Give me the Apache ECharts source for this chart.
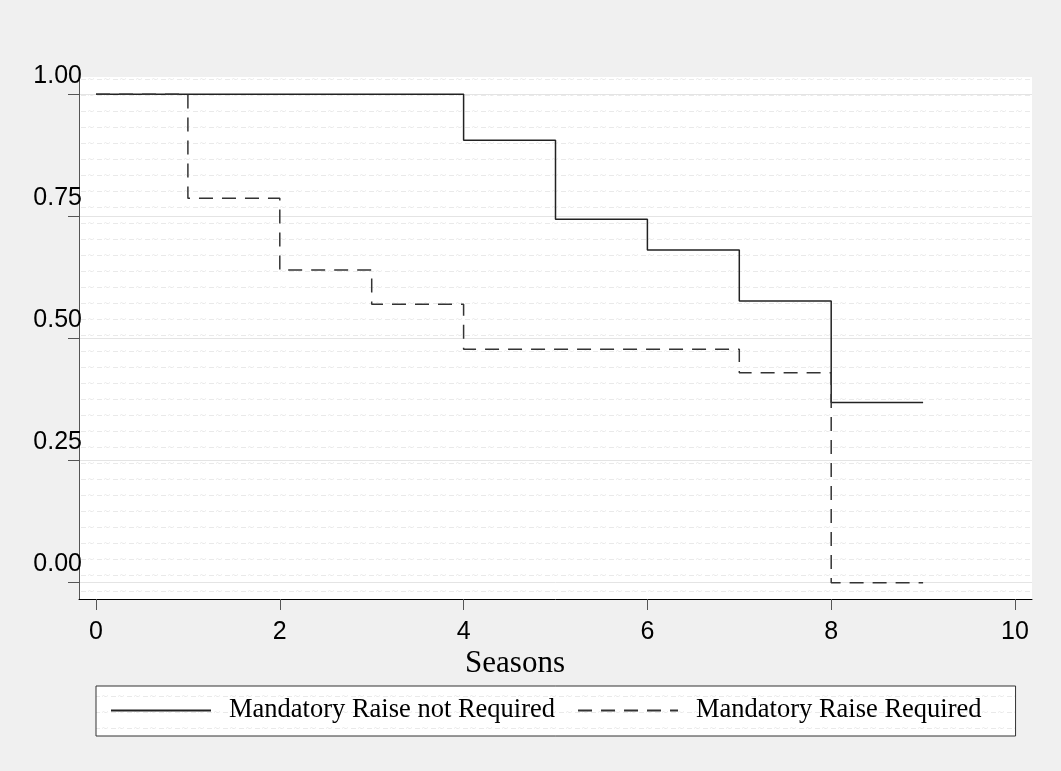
<!DOCTYPE html>
<html><head><meta charset="utf-8">
<script src="https://cdn.jsdelivr.net/npm/echarts@6/dist/echarts.min.js"></script>
<style>html,body{margin:0;padding:0;background:#f0f0f0}#c{width:1061px;height:771px}</style>
</head><body><div id="c"></div>
<script>
// ---- data ----
const xTicks = [0, 2, 4, 6, 8, 10];
const yTicks = [0, 0.25, 0.5, 0.75, 1];
const yTickLabels = ['0.00', '0.25', '0.50', '0.75', '1.00'];
const seriesNames = ['Mandatory Raise not Required', 'Mandatory Raise Required'];
const timesNotRequired = [0, 4, 5, 6, 7, 8, 9];
const survNotRequired  = [1, 0.906, 0.744, 0.681, 0.577, 0.369, 0.369];
const timesRequired = [0, 1, 2, 3, 4, 7, 8, 9];
const survRequired  = [1, 0.787, 0.640, 0.570, 0.478, 0.430, 0, 0];
const xAxisTitle = 'Seasons';

// ---- texture pattern (decorative background) ----
function makePattern() {
  const c = document.createElement('canvas');
  c.width = 16; c.height = 16;
  const g = c.getContext('2d');
  g.fillStyle = '#ffffff'; g.fillRect(0, 0, 16, 16);
  g.strokeStyle = '#e9e9e9'; g.lineWidth = 1;
  g.beginPath(); g.moveTo(1, 15.5); g.lineTo(6, 15.5); g.stroke();
  g.beginPath(); g.moveTo(8, 15.5); g.lineTo(9.5, 14.5); g.lineTo(11, 15.5); g.lineTo(12.5, 15.5); g.lineTo(14, 14.5); g.stroke();
  return { image: c, repeat: 'repeat' };
}
const pattern = makePattern();

const zip = (xs, ys) => xs.map((x, i) => [x, ys[i]]);

const chart = echarts.init(document.getElementById('c'), null, { renderer: 'canvas' });
chart.setOption({
  backgroundColor: '#f0f0f0',
  animation: false,
  grid: { left: 79, top: 77, width: 953, height: 522, show: true, backgroundColor: pattern, borderWidth: 0, containLabel: false },
  xAxis: {
    type: 'value', min: -0.185, max: 10.185,
    name: xAxisTitle, nameLocation: 'middle', nameGap: 49, nameMoveOverlap: false,
    nameTextStyle: { fontFamily: 'Liberation Serif', fontSize: 31, color: '#000', padding: [0, 81, 0, 0] },
    axisLine: { show: true, onZero: false, lineStyle: { color: '#000', width: 1 } },
    axisTick: { show: true, customValues: xTicks, length: 11, lineStyle: { color: '#555', width: 1 } },
    axisLabel: { customValues: xTicks, fontFamily: 'Liberation Sans', fontSize: 25, color: '#000', margin: 21 },
    splitLine: { show: false }
  },
  yAxis: {
    type: 'value', min: -0.0334, max: 1.0354,
    axisLine: { show: true, onZero: false, lineStyle: { color: '#555', width: 1 } },
    axisTick: { show: true, customValues: yTicks, length: 11, lineStyle: { color: '#555', width: 1 } },
    axisLabel: {
      customValues: yTicks,
      formatter: v => yTickLabels[yTicks.indexOf(v)] ?? v.toFixed(2),
      fontFamily: 'Liberation Sans', fontSize: 25, color: '#000',
      align: 'right', verticalAlign: 'bottom', lineHeight: 37, margin: -3
    },
    splitLine: { show: true, lineStyle: { color: '#e4e4e4', width: 1 } }
  },
  legend: {
    left: 96, top: 686,
    orient: 'horizontal',
    itemWidth: 100, itemHeight: 14, itemGap: 22,
    padding: [11, 34, 12, 14],
    borderColor: '#333', borderWidth: 1, borderRadius: 0,
    backgroundColor: pattern,
    itemStyle: { color: 'rgba(0,0,0,0)', borderWidth: 0, opacity: 0 },
    textStyle: { fontFamily: 'Liberation Serif', fontSize: 26.5, color: '#000', padding: [0, 0, 0, 13] },
    data: seriesNames
  },
  series: [
    {
      name: seriesNames[0], type: 'line', step: 'end', symbol: 'none',
      data: zip(timesNotRequired, survNotRequired),
      lineStyle: { color: '#222', width: 1.5, type: 'solid' },
      itemStyle: { color: '#222' }
    },
    {
      name: seriesNames[1], type: 'line', step: 'end', symbol: 'none',
      data: zip(timesRequired, survRequired),
      lineStyle: { color: '#333', width: 1.5, type: [14, 9] },
      itemStyle: { color: '#333' }
    }
  ]
});
</script></body></html>
